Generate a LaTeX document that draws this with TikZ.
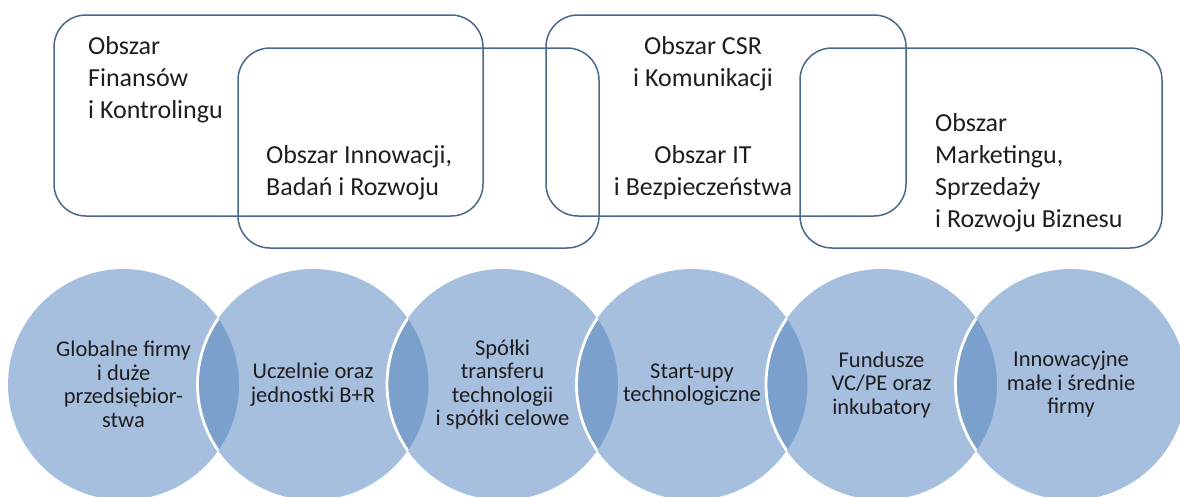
\documentclass[tikz,border=0pt]{standalone}
\usepackage{fontspec}
\setmainfont{Carlito}
\definecolor{edgecol}{RGB}{74,103,142}
\definecolor{discfill}{RGB}{167,191,222}
\definecolor{lensfill}{RGB}{124,160,204}
\definecolor{ink}{RGB}{30,30,30}
\begin{document}
\begin{tikzpicture}[x=1pt,y=-1pt,
  area/.style={draw=edgecol, line width=1.5pt, rounded corners=32pt, rectangle, inner sep=0pt},
  toptext/.style={font=\fontsize{26}{32}\selectfont, text=ink, inner sep=0pt},
  discshape/.style={circle, fill=discfill, minimum size=231pt, inner sep=0pt},
  disctext/.style={font=\fontsize{22.5}{23.5}\selectfont, text=ink, align=center, inner sep=0pt}]
\useasboundingbox (0,0) rectangle (1180,496);
\clip (0,0) rectangle (1180,496);
% area frames
\node[area, minimum width=429pt, minimum height=201pt] (r1) at (268.5,115.5) {};
\node[area, minimum width=361pt, minimum height=200pt] (r2) at (418.5,148) {};
\node[area, minimum width=360pt, minimum height=201pt] (r3) at (726,115.5) {};
\node[area, minimum width=362pt, minimum height=200pt] (r4) at (981,148) {};
% area labels
\node[toptext, align=left, anchor=west] (l1) at (88,80) {Obszar\\Finansów\\i Kontrolingu};
\node[toptext, align=left, anchor=west] (l2) at (266,173) {Obszar Innowacji,\\Badań i Rozwoju};
\node[toptext, align=center] (l3) at (703,64) {Obszar CSR\\i Komunikacji};
\node[toptext, align=center] (l4) at (703,173) {Obszar IT\\i Bezpieczeństwa};
\node[toptext, align=left, anchor=west] (l5) at (935,173) {Obszar\\Marketingu,\\Sprzedaży\\i Rozwoju Biznesu};
% discs
\foreach \i/\x in {1/123.5,2/313,3/502.5,4/692,5/881.5,6/1071}
  \node[discshape] (c\i) at (\x,384.5) {};
% overlaps
\foreach \a/\b in {1/2,2/3,3/4,4/5,5/6}{
  \begin{scope}
    \clip (c\a.center) circle (115.5);
    \fill[lensfill] (c\b.center) circle (115.5);
    \draw[white, line width=2.8pt] (c\b.center) circle (115.5);
  \end{scope}
}
% disc labels
\node[disctext] (d1) at (c1.center) {Globalne firmy\\i duże\\przedsiębior-\\stwa};
\node[disctext] (d2) at (c2.center) {Uczelnie oraz\\jednostki B+R};
\node[disctext] (d3) at (c3.center) {Spółki\\transferu\\technologii\\i spółki celowe};
\node[disctext] (d4) at (c4.center) {Start-upy\\technologiczne};
\node[disctext] (d5) at (c5.center) {Fundusze\\VC/PE oraz\\inkubatory};
\node[disctext] (d6) at (c6.center) {Innowacyjne\\małe i średnie\\firmy};
\end{tikzpicture}
\end{document}
